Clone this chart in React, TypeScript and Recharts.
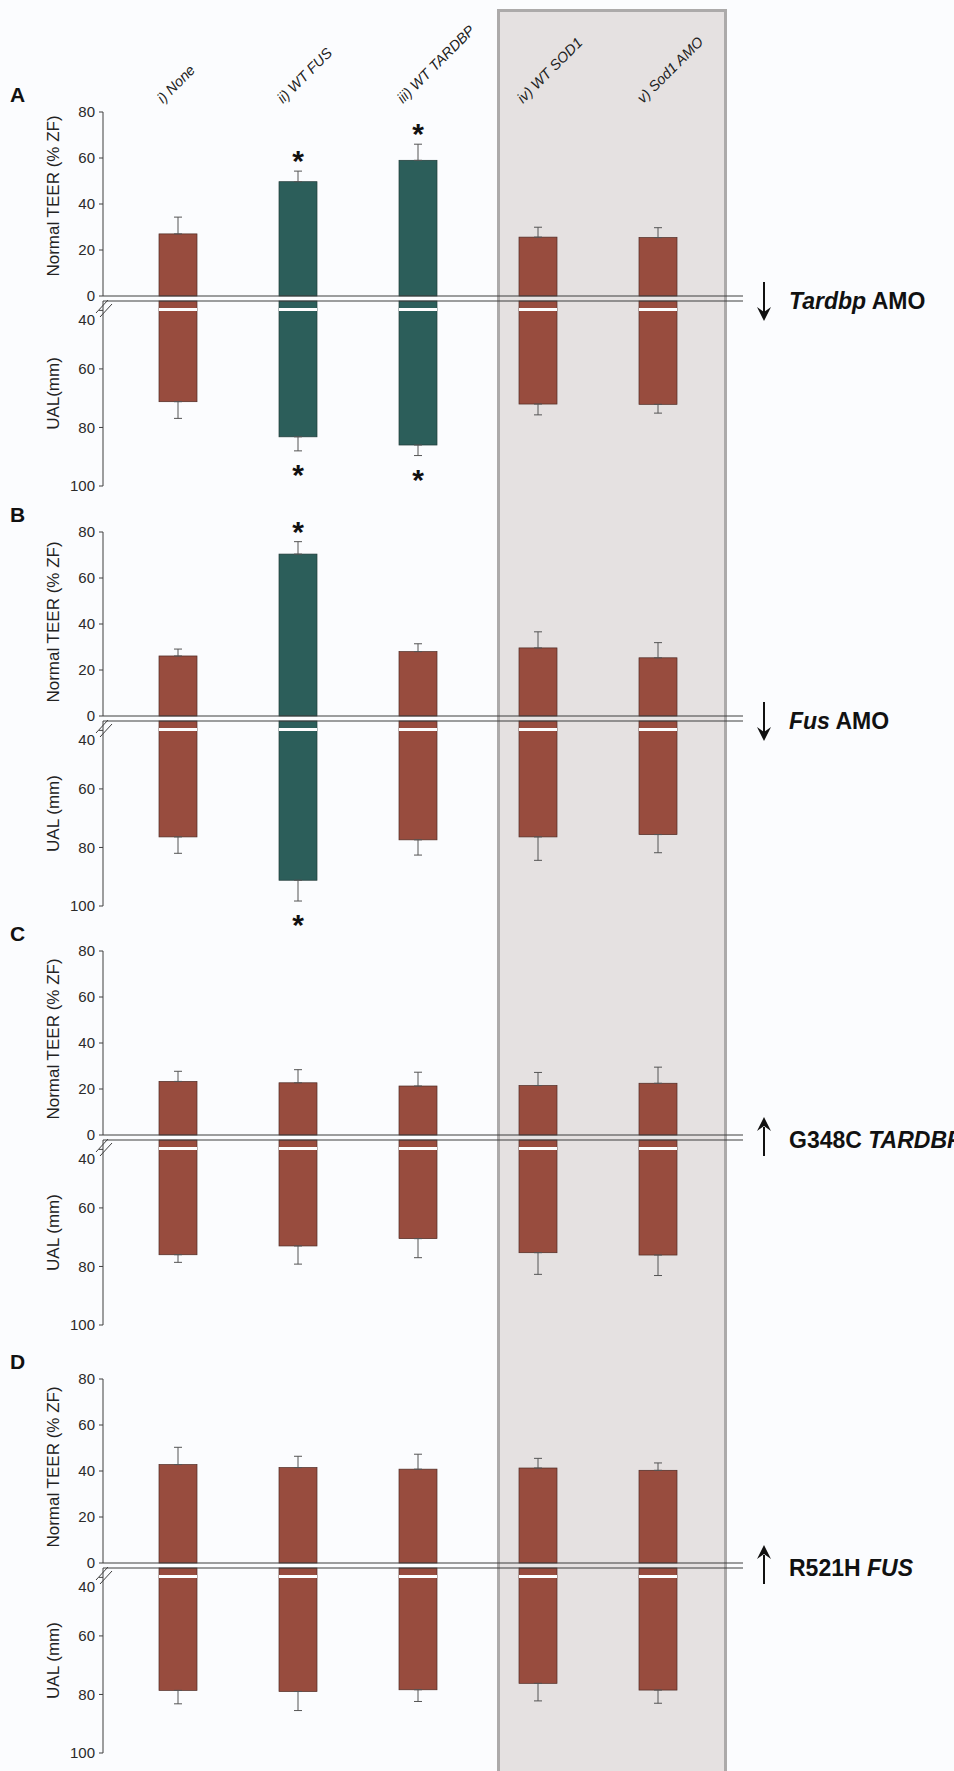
import React from 'react';
import { ComposedChart, Bar, ErrorBar, Scatter, XAxis, YAxis } from 'recharts';

const FONT = 'Arial, "Liberation Sans", Helvetica, sans-serif';
const NARROW = '"Liberation Sans Narrow", "Arial Narrow", Arial, sans-serif';
const RED = '#984c3e';
const TEAL = '#2c5e5a';
const AXIS = '#3f3f3f';

/* ---------- data ---------- */

const categories = ['i) None', 'ii) WT FUS', 'iii) WT TARDBP', 'iv) WT SOD1', 'v) Sod1 AMO'];
const teerTicks = [0, 20, 40, 60, 80];
const ualTicks = [40, 60, 80, 100];

// A: Tardbp AMO
const teerA = [27, 49.7, 59, 25.6, 25.4];
const teerErrA = [7.3, 4.6, 7, 4.3, 4.3];
const ualA = [71.2, 83.2, 86, 72, 72.1];
const ualErrA = [5.7, 4.8, 3.6, 3.7, 3];
const sigA = [false, true, true, false, false];

// B: Fus AMO
const teerB = [26.1, 70.4, 28, 29.6, 25.3];
const teerErrB = [3, 5.4, 3.4, 7, 6.6];
const ualB = [76.4, 91.2, 77.4, 76.4, 75.6];
const ualErrB = [5.6, 7.1, 5.2, 8, 6.2];
const sigB = [false, true, false, false, false];

// C: G348C TARDBP
const teerC = [23.3, 22.7, 21.3, 21.5, 22.5];
const teerErrC = [4.4, 5.7, 6, 5.7, 7];
const ualC = [76, 73, 70.5, 75.3, 76.1];
const ualErrC = [2.6, 6.2, 6.5, 7.4, 7];
const sigC = [false, false, false, false, false];

// D: R521H FUS
const teerD = [42.8, 41.5, 40.8, 41.3, 40.3];
const teerErrD = [7.5, 4.9, 6.5, 4.2, 3.2];
const ualD = [78.6, 79, 78.4, 76.2, 78.5];
const ualErrD = [4.6, 6.5, 4, 6, 4.5];
const sigD = [false, false, false, false, false];

type Part = { t: string; i?: boolean };

const panels = [
  { letter: 'A', dy: 0, teer: teerA, teerErr: teerErrA, ual: ualA, ualErr: ualErrA, sig: sigA, ualTitle: 'UAL(mm)', titleShift: -8, up: false, tag: [{ t: 'Tardbp', i: true }, { t: ' AMO' }] as Part[] },
  { letter: 'B', dy: 420, teer: teerB, teerErr: teerErrB, ual: ualB, ualErr: ualErrB, sig: sigB, ualTitle: 'UAL (mm)', titleShift: -2, up: false, tag: [{ t: 'Fus', i: true }, { t: ' AMO' }] as Part[] },
  { letter: 'C', dy: 839, teer: teerC, teerErr: teerErrC, ual: ualC, ualErr: ualErrC, sig: sigC, ualTitle: 'UAL (mm)', titleShift: -4, up: true, tag: [{ t: 'G348C ' }, { t: 'TARDBP', i: true }] as Part[] },
  { letter: 'D', dy: 1267, teer: teerD, teerErr: teerErrD, ual: ualD, ualErr: ualErrD, sig: sigD, ualTitle: 'UAL (mm)', titleShift: -4, up: true, tag: [{ t: 'R521H ' }, { t: 'FUS', i: true }] as Part[] },
];

type Panel = (typeof panels)[number];

/* ---------- shared bits ---------- */

const PAD = { left: 15, right: 25 };
const TICK_STYLE = { fontSize: 15, fill: '#2a2a2a', fontFamily: FONT };

function CategoryTick(props: any) {
  const { x, payload } = props;
  const sx = x - 15;
  const sy = 104;
  return (
    <text x={sx} y={sy} transform={`rotate(-45 ${sx} ${sy})`} fontSize={14.5} fontStyle="italic" fill="#222" fontFamily={NARROW}>
      {payload.value}
    </text>
  );
}

const axisTitle = (text: string, shift: number) => (props: any) => {
  const vb = props.viewBox || { x: 0, y: 0, width: 103, height: 0 };
  const cx = vb.x + 53;
  const cy = vb.y + vb.height / 2 + shift;
  return (
    <text x={cx} y={cy} transform={`rotate(-90 ${cx} ${cy})`} textAnchor="middle" dominantBaseline="central" fontSize={17} fill="#222" fontFamily={FONT}>
      {text}
    </text>
  );
};

const barShape = (striped: boolean) => (props: any) => {
  const { x, y, width, height, payload } = props;
  const top = Math.min(y, y + height);
  const h = Math.abs(height);
  const teal = payload?.teal;
  return (
    <g>
      <rect x={x} y={top} width={width} height={h} fill={teal ? TEAL : RED} stroke={teal ? '#1f3937' : '#4d2a23'} strokeWidth={0.7} />
      {striped && <rect x={x} y={top + 7} width={width} height={3} fill="#fdfdfd" />}
    </g>
  );
};

const starShape = (below: boolean) => (props: any) => {
  const { cx, cy, payload } = props;
  if (payload?.star == null || cy == null) return <g />;
  return (
    <text x={cx} y={below ? cy + 34 : cy} textAnchor="middle" fontSize={30} fontWeight="bold" fill="#111" fontFamily={FONT}>
      *
    </text>
  );
};

/* ---------- charts ---------- */

function TeerChart({ p }: { p: Panel }) {
  const rows = categories.map((name, i) => ({
    name,
    v: p.teer[i],
    err: [0, p.teerErr[i]],
    teal: p.sig[i],
    star: p.sig[i] ? p.teer[i] + p.teerErr[i] : null,
  }));
  const first = p.letter === 'A';
  const mt = first ? 12 : 30;
  const labelH = first ? 100 : 0;
  const top = first ? 0 : p.dy + 112 - mt;
  return (
    <div style={{ position: 'absolute', left: 0, top }}>
      <ComposedChart width={954} height={mt + labelH + 184 + 1 + 10} data={rows} margin={{ top: mt, right: 211, bottom: 10, left: 0 }}>
        {first && (
          <XAxis xAxisId="lab" dataKey="name" orientation="top" height={labelH} axisLine={false} tickLine={false} interval={0} padding={PAD} tick={<CategoryTick />} />
        )}
        <XAxis dataKey="name" height={1} tick={false} tickLine={false} axisLine={{ stroke: AXIS, strokeWidth: 1.2 }} padding={PAD} />
        <YAxis
          width={103}
          domain={[0, 80]}
          ticks={teerTicks}
          interval={0}
          tickSize={4}
          tickMargin={4}
          tick={TICK_STYLE}
          axisLine={{ stroke: AXIS }}
          tickLine={{ stroke: AXIS }}
          label={{ content: axisTitle('Normal TEER (% ZF)', p.titleShift) }}
        />
        <Bar dataKey="v" barSize={38} isAnimationActive={false} shape={barShape(false)}>
          <ErrorBar dataKey="err" direction="y" width={4} stroke="#555" strokeWidth={1} />
        </Bar>
        <Scatter dataKey="star" isAnimationActive={false} shape={starShape(false)} />
      </ComposedChart>
    </div>
  );
}

function UalChart({ p }: { p: Panel }) {
  const rows = categories.map((name, i) => ({
    name,
    v: p.ual[i],
    err: [0, p.ualErr[i]],
    teal: p.sig[i],
    star: p.sig[i] ? p.ual[i] + p.ualErr[i] : null,
  }));
  const ualTick = (props: any) => {
    const { x, y, payload } = props;
    return (
      <text x={x} y={y + (payload.value === 40 ? 9 : 0)} dy="0.355em" textAnchor="end" {...TICK_STYLE}>
        {payload.value}
      </text>
    );
  };
  return (
    <div style={{ position: 'absolute', left: 0, top: p.dy + 299 }}>
      <ComposedChart width={954} height={227} data={rows} margin={{ top: 1, right: 211, bottom: 40, left: 0 }}>
        <XAxis dataKey="name" orientation="top" height={1} tick={false} tickLine={false} axisLine={{ stroke: AXIS, strokeWidth: 1.2 }} padding={PAD} />
        <YAxis
          width={103}
          reversed
          domain={[36.8, 100]}
          ticks={ualTicks}
          interval={0}
          tickSize={4}
          tickMargin={4}
          tick={ualTick}
          axisLine={{ stroke: AXIS }}
          tickLine={{ stroke: AXIS }}
          label={{ content: axisTitle(p.ualTitle, 0) }}
        />
        <Bar dataKey="v" barSize={38} isAnimationActive={false} shape={barShape(true)}>
          <ErrorBar dataKey="err" direction="y" width={4} stroke="#555" strokeWidth={1} />
        </Bar>
        <Scatter dataKey="star" isAnimationActive={false} shape={starShape(true)} />
      </ComposedChart>
    </div>
  );
}

/* ---------- decorations ---------- */

function Decor() {
  return (
    <svg width={954} height={1771} style={{ position: 'absolute', left: 0, top: 0, pointerEvents: 'none' }}>
      {panels.map((p) => {
        const line = p.dy + 298;
        const ax = 764;
        const a0 = line - 16;
        const a1 = line + 23;
        const tip = p.up ? a0 - 4 : a1;
        const dir = p.up ? 1 : -1;
        return (
          <g key={p.letter} fontFamily={FONT}>
            <text x={10} y={p.dy + 102} fontSize={21} fontWeight="bold" fill="#111">
              {p.letter}
            </text>
            <line x1={96} y1={p.dy + 313} x2={108} y2={p.dy + 300} stroke={AXIS} strokeWidth={1} />
            <line x1={100} y1={p.dy + 317} x2={112} y2={p.dy + 304} stroke={AXIS} strokeWidth={1} />
            <line x1={ax} y1={p.up ? a0 + 6 : a0} x2={ax} y2={p.up ? a1 - 4 : a1 - 6} stroke="#111" strokeWidth={2} />
            <polygon
              points={`${ax - 7},${tip + dir * 14} ${ax},${tip} ${ax + 7},${tip + dir * 14} ${ax},${tip + dir * 9}`}
              fill="#111"
            />
            <text x={789} y={line + 11} fontSize={23} fontWeight="bold" fill="#111" style={{ whiteSpace: 'pre' }}>
              {p.tag.map((part, k) => (
                <tspan key={k} fontStyle={part.i ? 'italic' : 'normal'}>
                  {part.t}
                </tspan>
              ))}
            </text>
          </g>
        );
      })}
    </svg>
  );
}

export default function App() {
  return (
    <div style={{ position: 'absolute', left: 0, top: 0, width: 954, height: 1771, overflow: 'hidden', background: '#fbfcfe', fontFamily: FONT }}>
      <div
        style={{
          position: 'absolute',
          left: 497,
          top: 9,
          width: 230,
          height: 1800,
          boxSizing: 'border-box',
          border: '3px solid #acaaaa',
          background: '#e5e1e1',
        }}
      />
      {panels.map((p) => (
        <React.Fragment key={p.letter}>
          <TeerChart p={p} />
          <UalChart p={p} />
        </React.Fragment>
      ))}
      <Decor />
    </div>
  );
}
